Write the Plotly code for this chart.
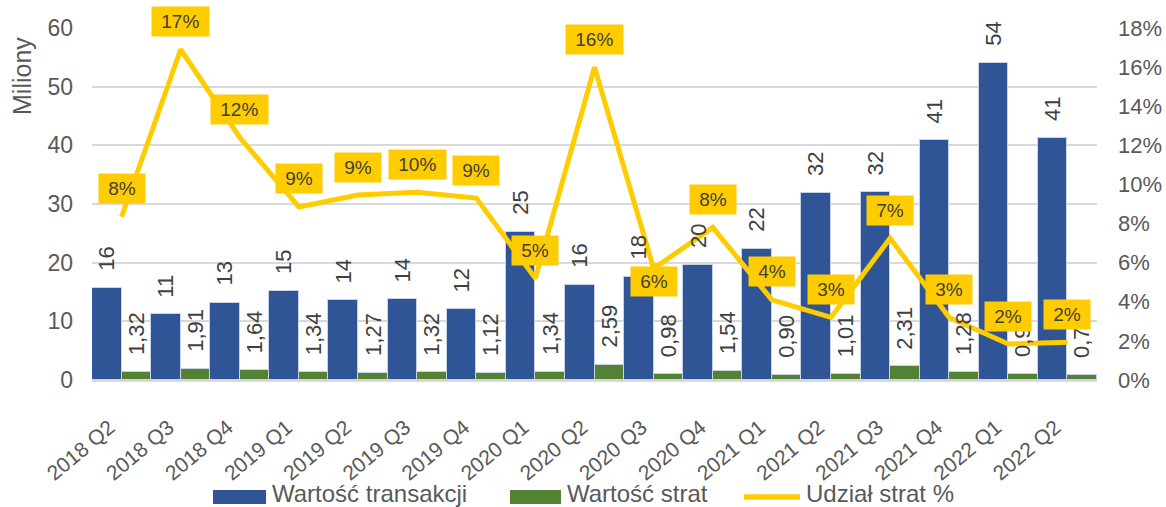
import plotly.graph_objects as go

categories = ["2018 Q2", "2018 Q3", "2018 Q4", "2019 Q1", "2019 Q2", "2019 Q3", "2019 Q4",
              "2020 Q1", "2020 Q2", "2020 Q3", "2020 Q4", "2021 Q1", "2021 Q2", "2021 Q3",
              "2021 Q4", "2022 Q1", "2022 Q2"]
transaction_value = [15.7, 11.2, 13.2, 15.2, 13.6, 13.8, 12.1, 25.2, 16.2, 17.6, 19.6, 22.4,
                     31.9, 32.0, 40.9, 54.0, 41.2]
loss_value = [1.32, 1.91, 1.64, 1.34, 1.27, 1.32, 1.12, 1.34, 2.59, 0.98, 1.54, 0.90, 1.01,
              2.31, 1.28, 0.95, 0.79]
loss_share = [0.0835, 0.169, 0.124, 0.0885, 0.0946, 0.096, 0.093, 0.052, 0.160, 0.057, 0.078,
              0.041, 0.032, 0.0725, 0.032, 0.0184, 0.0193]
series_names = ["Wartość transakcji", "Wartość strat", "Udział strat %"]

BLUE = "#2F5597"
GREEN = "#548235"
YELLOW = "#FFCC00"
GREY = "#595959"
DARK = "#404040"
GRID = "#D9D9D9"
FONT = "Liberation Sans, Arial, sans-serif"

W, H = 1166, 507
ML, MR, MT, MB = 92, 69, 28, 127
PW, PH = W - ML - MR, H - MT - MB


def px_x(x):
    return (x - ML) / PW


def px_y(y):
    return (H - MB - y) / PH


share_label_shift = [28] * len(categories)
share_label_shift[9] = -13
BAR_HALF = 14.8
BAR_LABEL_GAP = 15

fig = go.Figure()
fig.add_trace(go.Bar(
    x=categories, y=transaction_value, name=series_names[0],
    marker=dict(color=BLUE, line=dict(color="#C9D3E6", width=1)),
))
fig.add_trace(go.Bar(
    x=categories, y=loss_value, name=series_names[1],
    marker=dict(color=GREEN, line=dict(color="#C9D3E6", width=1)),
))
fig.add_trace(go.Scatter(
    x=categories, y=loss_share, name=series_names[2], yaxis="y2",
    mode="lines", line=dict(color=YELLOW, width=5),
))

annotations = []
for c, v in zip(categories, transaction_value):
    annotations.append(dict(
        x=c, y=v, xref="x", yref="y", text=f"{v:.0f}", showarrow=False,
        textangle=-90, xanchor="center", yanchor="bottom", xshift=-BAR_HALF,
        yshift=BAR_LABEL_GAP, font=dict(family=FONT, size=22, color=DARK),
    ))
for c, v in zip(categories, loss_value):
    annotations.append(dict(
        x=c, y=v, xref="x", yref="y", text=f"{v:.2f}".replace(".", ","), showarrow=False,
        textangle=-90, xanchor="center", yanchor="bottom", xshift=BAR_HALF,
        yshift=BAR_LABEL_GAP, font=dict(family=FONT, size=22, color=DARK),
    ))
for c, v, s in zip(categories, loss_share, share_label_shift):
    annotations.append(dict(
        x=c, y=v, xref="x", yref="y2", text="\u00a0" + f"{v*100:.0f}%" + "\u00a0",
        showarrow=False, xanchor="center", yanchor="middle", yshift=s,
        bgcolor=YELLOW, borderpad=4, font=dict(family=FONT, size=19, color=DARK),
    ))
annotations.append(dict(
    x=px_x(22), y=px_y(76), xref="paper", yref="paper", text="Miliony", showarrow=False,
    textangle=-90, xanchor="center", yanchor="middle",
    font=dict(family=FONT, size=25, color=GREY),
))

# custom legend (wide swatches as in the reference)
shapes = []
legend_y = 497
swatches = [(213, 266, BLUE, "rect"), (510, 561, GREEN, "rect"), (744, 800, YELLOW, "line")]
for (x0, x1, col, kind), name in zip(swatches, series_names):
    if kind == "rect":
        shapes.append(dict(type="rect", xref="paper", yref="paper",
                           x0=px_x(x0), x1=px_x(x1), y0=px_y(legend_y + 7), y1=px_y(legend_y - 7),
                           fillcolor=col, line=dict(width=0)))
    else:
        shapes.append(dict(type="line", xref="paper", yref="paper",
                           x0=px_x(x0), x1=px_x(x1), y0=px_y(legend_y), y1=px_y(legend_y),
                           line=dict(color=col, width=5.5)))
    annotations.append(dict(
        x=px_x(x1 + 4), y=px_y(493), xref="paper", yref="paper", text=name,
        showarrow=False, xanchor="left", yanchor="middle",
        font=dict(family=FONT, size=24, color=GREY),
    ))

fig.update_layout(
    width=W, height=H,
    margin=dict(l=ML, r=MR, t=MT, b=MB, autoexpand=False),
    paper_bgcolor="white", plot_bgcolor="white",
    barmode="group", bargap=0, bargroupgap=0,
    font=dict(family=FONT, color=GREY, size=20),
    xaxis=dict(
        type="category", tickangle=-40, tickfont=dict(size=21, color=GREY),
        showgrid=False, showline=True, linecolor=GRID, linewidth=2, ticks="",
        automargin=False, ticklabelstandoff=25, ticklabelshift=-12,
    ),
    yaxis=dict(
        range=[0, 60], dtick=10, showgrid=True, gridcolor=GRID, gridwidth=1.5,
        zeroline=False, tickfont=dict(size=23, color=GREY), ticks="",
        ticklabelstandoff=18, automargin=False,
    ),
    yaxis2=dict(
        range=[0, 0.18], dtick=0.02, tickformat=".0%", overlaying="y", side="right",
        showgrid=False, zeroline=False, tickfont=dict(size=22, color=GREY), ticks="",
        ticklabelstandoff=20, automargin=False,
    ),
    showlegend=False,
    annotations=annotations,
    shapes=shapes,
)

fig.write_html("out.html", post_script="document.body.style.margin='0';",
               config={"displayModeBar": False})
